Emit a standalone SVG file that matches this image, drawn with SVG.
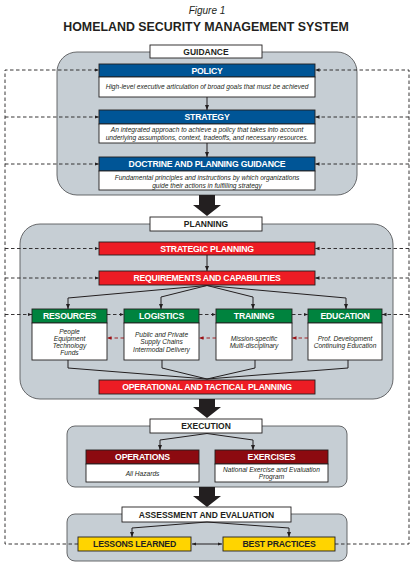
<svg xmlns="http://www.w3.org/2000/svg" width="413" height="565" viewBox="0 0 413 565">
<defs>
<marker id="ah" viewBox="0 0 10 10" refX="10" refY="5" markerWidth="5" markerHeight="5" orient="auto-start-reverse"><path d="M0,1 L10,5 L0,9 Z" fill="#231f20"/></marker>
<marker id="ahr" viewBox="0 0 10 10" refX="10" refY="5" markerWidth="5" markerHeight="5" orient="auto"><path d="M0,1 L10,5 L0,9 Z" fill="#9b1115"/></marker>
<marker id="ahs" viewBox="0 0 10 10" refX="10" refY="5" markerWidth="4" markerHeight="4" orient="auto-start-reverse"><path d="M0,1 L10,5 L0,9 Z" fill="#231f20"/></marker>
</defs>
<style>
.panel{fill:#c6ced4;stroke:#58595b;stroke-width:0.9}
.label{fill:#fff;stroke:#231f20;stroke-width:0.9}
.lt{font-family:"Liberation Sans",Arial,sans-serif;font-weight:bold;font-size:8.5px;fill:#231f20;text-anchor:middle}
.hd{stroke:#231f20;stroke-width:0.9}
.blue{fill:#005596}
.red{fill:#ed1c24}
.green{fill:#00833e}
.dred{fill:#8c0a10}
.yel{fill:#ffd400}
.ht{font-family:"Liberation Sans",Arial,sans-serif;font-weight:bold;font-size:8.7px;fill:#fff;text-anchor:middle;letter-spacing:-0.2px}
.yt{font-family:"Liberation Sans",Arial,sans-serif;font-weight:bold;font-size:8.7px;fill:#231f20;text-anchor:middle;letter-spacing:-0.2px}
.body{fill:#fff;stroke:#231f20;stroke-width:0.9}
.bt{font-family:"Liberation Sans",Arial,sans-serif;font-style:italic;font-size:6.6px;fill:#231f20;text-anchor:middle}
.dash{fill:none;stroke:#231f20;stroke-width:0.9;stroke-dasharray:3.5,2.5}
.rdash{fill:none;stroke:#9b1115;stroke-width:0.9;stroke-dasharray:3.5,2.5}
.sol{fill:none;stroke:#231f20;stroke-width:1}
.big{fill:#231f20}
</style>
<rect width="413" height="565" fill="#fff"/>
<text x="207" y="14" font-family="Liberation Sans,Arial,sans-serif" font-style="italic" font-size="10" fill="#231f20" text-anchor="middle">Figure 1</text>
<text x="206" y="31" font-family="Liberation Sans,Arial,sans-serif" font-weight="bold" font-size="12.4" fill="#231f20" text-anchor="middle">HOMELAND SECURITY MANAGEMENT SYSTEM</text>

<g id="panel-guidance">
<rect class="panel" x="57" y="52" width="300" height="143" rx="20"/>
<rect class="label" x="150" y="45" width="112" height="13"/>
<text class="lt" x="206" y="54.7">GUIDANCE</text>
</g>
<g id="policy">
<rect class="hd blue" x="99" y="64" width="216" height="13"/>
<text class="ht" x="207" y="73.5">POLICY</text>
<rect class="body" x="99" y="77" width="216" height="20"/>
<text class="bt" x="207" y="89.3">High-level executive articulation of broad goals that must be achieved</text>
</g>
<g id="strategy">
<rect class="hd blue" x="99" y="110" width="216" height="14"/>
<text class="ht" x="207" y="120">STRATEGY</text>
<rect class="body" x="99" y="124" width="216" height="19"/>
<text class="bt" x="207" y="132.3">An integrated approach to achieve a policy that takes into account</text>
<text class="bt" x="207" y="140">underlying assumptions, context, tradeoffs, and necessary resources.</text>
</g>
<g id="doctrine">
<rect class="hd blue" x="99" y="157" width="216" height="14"/>
<text class="ht" x="207" y="167">DOCTRINE AND PLANNING GUIDANCE</text>
<rect class="body" x="99" y="171" width="216" height="19"/>
<text class="bt" x="207" y="180">Fundamental principles and instructions by which organizations</text>
<text class="bt" x="207" y="187.5">guide their actions in fulfilling strategy</text>
</g>

<g id="panel-planning">
<rect class="panel" x="20" y="224" width="373" height="175" rx="20"/>
<rect class="label" x="150" y="217" width="112" height="14"/>
<text class="lt" x="206" y="227">PLANNING</text>
</g>
<g id="strategic-planning">
<rect class="hd red" x="99" y="242" width="216" height="13"/>
<text class="ht" x="207" y="251.5">STRATEGIC PLANNING</text>
</g>
<g id="requirements">
<rect class="hd red" x="99" y="271" width="216" height="14"/>
<text class="ht" x="207" y="281">REQUIREMENTS AND CAPABILITIES</text>
</g>
<g id="resources">
<rect class="hd green" x="32" y="309" width="75" height="14"/>
<text class="ht" x="69.5" y="319">RESOURCES</text>
<rect class="body" x="32" y="323" width="75" height="37"/>
<text class="bt" x="69.5" y="334">People</text>
<text class="bt" x="69.5" y="341">Equipment</text>
<text class="bt" x="69.5" y="348">Technology</text>
<text class="bt" x="69.5" y="355">Funds</text>
</g>
<g id="logistics">
<rect class="hd green" x="124" y="309" width="75" height="14"/>
<text class="ht" x="161.5" y="319">LOGISTICS</text>
<rect class="body" x="124" y="323" width="75" height="37"/>
<text class="bt" x="161.5" y="336.5">Public and Private</text>
<text class="bt" x="161.5" y="344">Supply Chains</text>
<text class="bt" x="161.5" y="351.5">Intermodal Delivery</text>
</g>
<g id="training">
<rect class="hd green" x="216" y="309" width="76" height="14"/>
<text class="ht" x="254" y="319">TRAINING</text>
<rect class="body" x="216" y="323" width="76" height="37"/>
<text class="bt" x="254" y="340.5">Mission-specific</text>
<text class="bt" x="254" y="348">Multi-disciplinary</text>
</g>
<g id="education">
<rect class="hd green" x="308" y="309" width="74" height="14"/>
<text class="ht" x="345" y="319">EDUCATION</text>
<rect class="body" x="308" y="323" width="74" height="37"/>
<text class="bt" x="345" y="340.5">Prof. Development</text>
<text class="bt" x="345" y="348">Continuing Education</text>
</g>
<g id="operational">
<rect class="hd red" x="99" y="380" width="216" height="14"/>
<text class="ht" x="207" y="390">OPERATIONAL AND TACTICAL PLANNING</text>
</g>

<g id="panel-execution">
<rect class="panel" x="67" y="426" width="280" height="61" rx="8"/>
<rect class="label" x="150" y="419" width="112" height="14"/>
<text class="lt" x="206" y="429">EXECUTION</text>
</g>
<g id="operations">
<rect class="hd dred" x="86" y="450" width="113" height="14"/>
<text class="ht" x="142.5" y="460">OPERATIONS</text>
<rect class="body" x="86" y="464" width="113" height="18"/>
<text class="bt" x="142.5" y="475.5">All Hazards</text>
</g>
<g id="exercises">
<rect class="hd dred" x="215" y="450" width="113" height="14"/>
<text class="ht" x="271.5" y="460">EXERCISES</text>
<rect class="body" x="215" y="464" width="113" height="18"/>
<text class="bt" x="271.5" y="472">National Exercise and Evaluation</text>
<text class="bt" x="271.5" y="479">Program</text>
</g>

<g id="panel-assessment">
<rect class="panel" x="67" y="514" width="280" height="47" rx="8"/>
<rect class="label" x="122" y="507" width="169" height="15"/>
<text class="lt" x="206.5" y="517.5">ASSESSMENT AND EVALUATION</text>
</g>
<g id="lessons">
<rect class="hd yel" x="78" y="537" width="113" height="14"/>
<text class="yt" x="134.5" y="547">LESSONS LEARNED</text>
</g>
<g id="best">
<rect class="hd yel" x="223" y="537" width="112" height="14"/>
<text class="yt" x="279" y="547">BEST PRACTICES</text>
</g>

<g id="connectors">
<path class="big" d="M199,195 H215 V205 H221 L207,216 L193,205 H199 Z"/>
<path class="big" d="M199,399 H215 V407 H221 L207,418 L193,407 H199 Z"/>
<path class="big" d="M199,487 H215 V496 H221 L207,507 L193,496 H199 Z"/>
<line class="sol" x1="207" y1="97" x2="207" y2="110" marker-end="url(#ah)"/>
<line class="sol" x1="207" y1="143" x2="207" y2="157" marker-end="url(#ah)"/>
<line class="sol" x1="207" y1="255" x2="207" y2="271" marker-end="url(#ah)"/>
<polyline class="sol" points="207,285.5 68,298 68,309" marker-end="url(#ah)"/>
<polyline class="sol" points="207,285.5 161,297 161,309" marker-end="url(#ah)"/>
<polyline class="sol" points="207,285.5 253,297 253,309" marker-end="url(#ah)"/>
<polyline class="sol" points="207,285.5 346,298 346,309" marker-end="url(#ah)"/>
<polyline class="sol" points="68,360 68,368 207,379"/>
<polyline class="sol" points="162,360 162,368 207,379"/>
<polyline class="sol" points="255,360 255,368 207,379"/>
<polyline class="sol" points="348,360 348,368 207,379"/>
<polyline class="sol" points="207,433.5 160,440 160,450" marker-end="url(#ah)"/>
<polyline class="sol" points="207,433.5 253,440 253,450" marker-end="url(#ah)"/>
<polyline class="sol" points="207,522 132,528 132,537" marker-end="url(#ah)"/>
<polyline class="sol" points="207,522 289,528 289,537" marker-end="url(#ah)"/>
<line class="sol" x1="192" y1="544" x2="222" y2="544" marker-start="url(#ahs)" marker-end="url(#ahs)"/>
<polyline class="dash" points="78,544 5,544 5,70 99,70" marker-end="url(#ah)"/>
<polyline class="dash" points="335,544 409,544 409,70 315,70" marker-end="url(#ah)"/>
<line class="dash" x1="5" y1="117" x2="99" y2="117" marker-end="url(#ah)"/>
<line class="dash" x1="409" y1="117" x2="315" y2="117" marker-end="url(#ah)"/>
<line class="dash" x1="5" y1="164" x2="99" y2="164" marker-end="url(#ah)"/>
<line class="dash" x1="409" y1="164" x2="315" y2="164" marker-end="url(#ah)"/>
<line class="dash" x1="5" y1="248.5" x2="99" y2="248.5" marker-end="url(#ah)"/>
<line class="dash" x1="409" y1="248.5" x2="315" y2="248.5" marker-end="url(#ah)"/>
<line class="dash" x1="5" y1="278" x2="99" y2="278" marker-end="url(#ah)"/>
<line class="dash" x1="409" y1="278" x2="315" y2="278" marker-end="url(#ah)"/>
<line class="dash" x1="5" y1="314.5" x2="32" y2="314.5" marker-end="url(#ah)"/>
<line class="dash" x1="107" y1="314.5" x2="124" y2="314.5" marker-end="url(#ah)"/>
<line class="dash" x1="199" y1="314.5" x2="216" y2="314.5" marker-end="url(#ah)"/>
<line class="dash" x1="292" y1="314.5" x2="308" y2="314.5" marker-end="url(#ah)"/>
<line class="dash" x1="409" y1="314.5" x2="382" y2="314.5" marker-end="url(#ah)"/>
<line class="rdash" x1="124" y1="338" x2="107" y2="338" marker-end="url(#ahr)"/>
<line class="rdash" x1="216" y1="338" x2="199" y2="338" marker-end="url(#ahr)"/>
<line class="rdash" x1="308" y1="338" x2="292" y2="338" marker-end="url(#ahr)"/>
</g>
</svg>
